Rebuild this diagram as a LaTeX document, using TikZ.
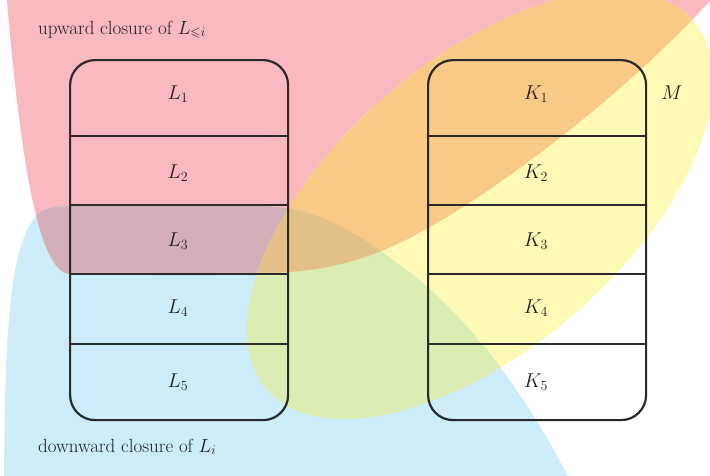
\RequirePackage{fix-cm}
\documentclass[tikz,border=0pt]{standalone}
\usepackage{amssymb}
\definecolor{cPink}{HTML}{FAB9BE}
\definecolor{cYel}{HTML}{FFF9B6}
\definecolor{cBlue}{HTML}{CDEDFA}
\definecolor{cOrange}{HTML}{F8CA86}
\definecolor{cMauve}{HTML}{D4AFBA}
\definecolor{cGreen}{HTML}{DBEDB2}
\definecolor{cTan}{HTML}{E2C087}
\definecolor{cLine}{HTML}{2A2A2A}
\definecolor{cText}{HTML}{1E1E1E}
\def\RedP{(6,-10) .. controls (18,130) and (35,274) .. (70,274) .. controls (160,275) and (240,277) .. (300,271) .. controls (350,266) and (390,250) .. (430,227) .. controls (520,175) and (640,80) .. (720,-10) -- cycle}
\def\YelP{(480,205) ellipse [x radius=282, y radius=144]}
\def\BlueP{(4,490) -- (4,480) .. controls (5,320) and (10,240) .. (40,212) .. controls (48,206) and (60,206) .. (100,206) -- (260,206) .. controls (320,206) and (360,236) .. (400,265) .. controls (470,316) and (530,400) .. (575,490) -- cycle}
\tikzset{
  yrot/.style={rotate around={40.8:(480,205)}},
  boxframe/.style={draw=cLine, line width=2.2pt, rounded corners=25pt, minimum width=218pt, minimum height=360pt, inner sep=0pt, anchor=north west},
  sepline/.style={draw=cLine, line width=2.2pt},
  lab/.style={font=\fontsize{20}{24}\selectfont, text=cText, anchor=base, inner sep=0pt},
  txt/.style={font=\fontsize{19}{23}\selectfont, text=cText, anchor=base west, inner sep=0pt}
}
\begin{document}
\begin{tikzpicture}[x=1pt,y=-1pt]
\useasboundingbox (0,0) rectangle (710,475);
\begin{scope}
  \clip (0,0) rectangle (710,475);
  \fill[cPink] \RedP;
  \fill[cYel, yrot] \YelP;
  \fill[cBlue] \BlueP;
  \begin{scope}\clip \RedP; \fill[cOrange, yrot] \YelP; \end{scope}
  \begin{scope}\clip \RedP; \fill[cMauve] \BlueP; \end{scope}
  \begin{scope}\clip[yrot] \YelP; \fill[cGreen] \BlueP; \end{scope}
  \begin{scope}\clip \RedP; \clip[yrot] \YelP; \fill[cTan] \BlueP; \end{scope}
\end{scope}

% boxes
\node[boxframe] (Lbox) at (69,59) {};
\node[boxframe] (Kbox) at (427,59) {};
\foreach \yy in {136,205,274,344} {
  \draw[sepline] (69,\yy) -- (287,\yy);
  \draw[sepline] (427,\yy) -- (645,\yy);
}

% labels
\node[lab] (L1) at (178,99) {$L_1$};
\node[lab] (L2) at (178,178) {$L_2$};
\node[lab] (L3) at (178,246) {$L_3$};
\node[lab] (L4) at (178,313) {$L_4$};
\node[lab] (L5) at (178,387) {$L_5$};
\node[lab] (K1) at (536,99) {$K_1$};
\node[lab] (K2) at (536,178) {$K_2$};
\node[lab] (K3) at (536,246) {$K_3$};
\node[lab] (K4) at (536,313) {$K_4$};
\node[lab] (K5) at (536,387) {$K_5$};
\node[lab] (M) at (672,99) {$M$};

\node[txt] (up) at (38,34) {upward closure of $L_{\leqslant i}$};
\node[txt] (down) at (38,452) {downward closure of $L_i$};
\end{tikzpicture}
\end{document}
